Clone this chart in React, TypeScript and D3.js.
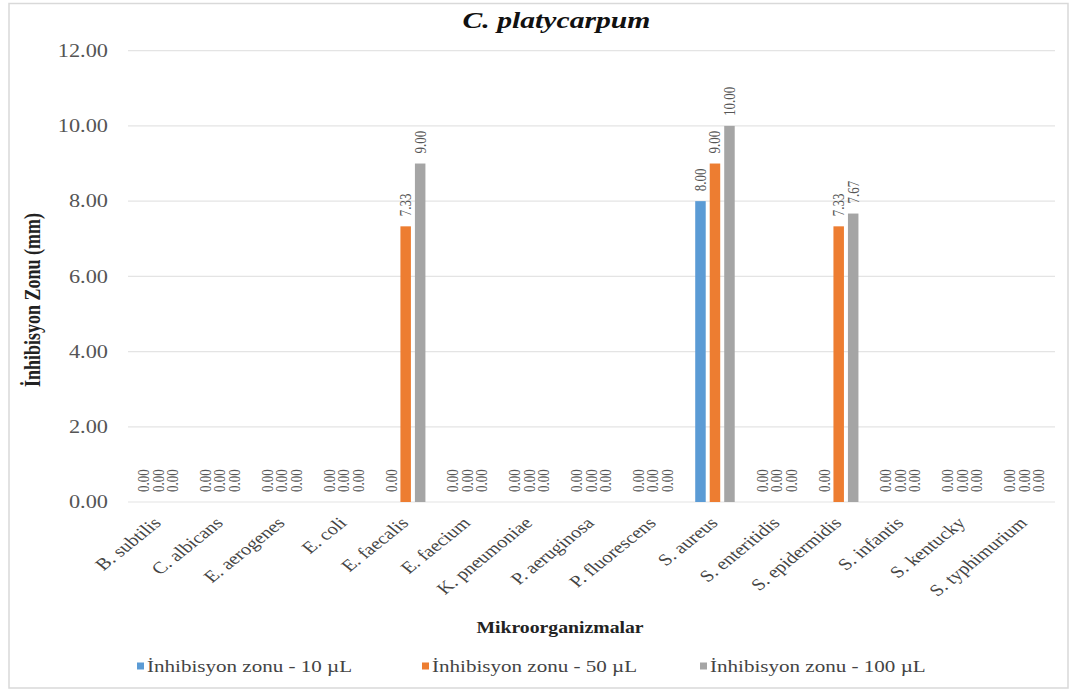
import React from "react";
import * as d3 from "d3";

const categories = [
  "B. subtilis",
  "C. albicans",
  "E. aerogenes",
  "E. coli",
  "E. faecalis",
  "E. faecium",
  "K. pneumoniae",
  "P. aeruginosa",
  "P. fluorescens",
  "S. aureus",
  "S. enteritidis",
  "S. epidermidis",
  "S. infantis",
  "S. kentucky",
  "S. typhimurium",
];

const seriesNames = [
  "İnhibisyon zonu  - 10 µL",
  "İnhibisyon zonu  - 50 µL",
  "İnhibisyon zonu  - 100 µL",
];
const seriesColors = ["#5B9BD5", "#ED7D31", "#A5A5A5"];

const values10 = [0, 0, 0, 0, 0, 0, 0, 0, 0, 8.0, 0, 0, 0, 0, 0];
const values50 = [0, 0, 0, 0, 7.33, 0, 0, 0, 0, 9.0, 0, 7.33, 0, 0, 0];
const values100 = [0, 0, 0, 0, 9.0, 0, 0, 0, 0, 10.0, 0, 7.67, 0, 0, 0];
const seriesValues = [values10, values50, values100];

const yTicks = [0, 2, 4, 6, 8, 10, 12];

const W = 1071;
const H = 690;
const FONT = "'Liberation Serif', 'Times New Roman', serif";
// horizontal widening applied to all text glyphs
const SX = 1.24;

export default function App() {
  const y = d3.scaleLinear().domain([0, 12]).range([502, 50.7]);
  const x = d3.scaleBand<string>().domain(categories).range([127.3, 1055.2]);
  const x1 = d3
    .scaleBand<number>()
    .domain([0, 1, 2])
    .range([-19.75, 19.75])
    .paddingInner(0.276);
  const fmt = d3.format(".2f");
  const gridLeft = 128;
  const gridRight = 1055;
  const legendX = [137, 422, 700];

  return (
    <svg
      width={W}
      height={H}
      style={{ position: "absolute", left: 0, top: 0, background: "#fff" }}
      fontFamily={FONT}
    >
      <rect x={0} y={0} width={W} height={H} fill="#fff" />
      <rect
        x={9}
        y={3.5}
        width={1059}
        height={684.5}
        fill="none"
        stroke="#d9d9d9"
        strokeWidth={1.5}
      />

      {/* title */}
      <text
        transform={`translate(556.5, 28) scale(${SX + 0.05},1)`}
        textAnchor="middle"
        fontSize={23}
        fontWeight="bold"
        fontStyle="italic"
        fill="#111"
      >
        C. platycarpum
      </text>

      {/* gridlines + y tick labels */}
      {yTicks.map((t) => (
        <g key={t}>
          <line
            x1={gridLeft}
            x2={gridRight}
            y1={y(t)}
            y2={y(t)}
            stroke="#e4e4e4"
            strokeWidth={1.2}
          />
          <text
            transform={`translate(108, ${y(t)}) scale(${SX},1)`}
            dy="0.35em"
            textAnchor="end"
            fontSize={18}
            fill="#555"
          >
            {fmt(t)}
          </text>
        </g>
      ))}

      {/* y axis title */}
      <text
        transform={`translate(32, 300) scale(${SX},1) rotate(-90)`}
        dy="0.35em"
        textAnchor="middle"
        fontSize={18}
        fontWeight="bold"
        fill="#222"
      >
        İnhibisyon Zonu (mm)
      </text>

      {/* bars and value labels */}
      {categories.map((c, ci) => (
        <g key={c} transform={`translate(${x(c)! + x.bandwidth() / 2},0)`}>
          {seriesValues.map((vals, si) => {
            const v = vals[ci];
            const bx = x1(si)!;
            const bw = x1.bandwidth();
            return (
              <g key={si}>
                {v > 0 && (
                  <rect
                    x={bx}
                    y={y(v)}
                    width={bw}
                    height={y(0) - y(v)}
                    fill={seriesColors[si]}
                  />
                )}
                <text
                  transform={`translate(${bx + bw / 2}, ${y(v) - 10}) scale(${SX},1) rotate(-90)`}
                  dy="0.33em"
                  textAnchor="start"
                  fontSize={13}
                  fill="#555"
                >
                  {fmt(v)}
                </text>
              </g>
            );
          })}
        </g>
      ))}

      {/* category labels */}
      {categories.map((c) => (
        <text
          key={c}
          transform={`translate(${x(c)! + x.bandwidth() / 2 + 4}, 524) scale(${SX},1) rotate(-45)`}
          textAnchor="end"
          fontSize={16.5}
          fill="#444"
        >
          {c}
        </text>
      ))}

      {/* x axis title */}
      <text
        transform={`translate(560, 633) scale(${SX - 0.08},1)`}
        textAnchor="middle"
        fontSize={17}
        fontWeight="bold"
        fill="#222"
      >
        Mikroorganizmalar
      </text>

      {/* legend */}
      {seriesNames.map((name, i) => (
        <g key={name} transform={`translate(${legendX[i]}, 666)`}>
          <rect x={0} y={-3.5} width={7} height={7} fill={seriesColors[i]} />
          <text
            transform={`translate(10, 0) scale(${SX},1)`}
            dy="0.35em"
            fontSize={17}
            fill="#444"
          >
            {name}
          </text>
        </g>
      ))}
    </svg>
  );
}
